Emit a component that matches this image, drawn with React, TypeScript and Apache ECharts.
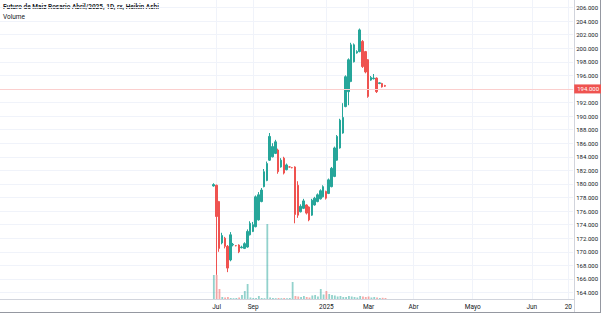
import React, { useEffect, useRef } from "react";
import * as echarts from "echarts";

const TITLE = "Futuro de Maiz Rosario Abril/2025, 1D, rx, Heikin Ashi";
const VOLUME_TITLE = "Volume";

// Heikin Ashi candles (open, close, low, high)
const haOpen = [
  179.7, 179.8, 177.4, 171.3, 172.0, 170.8, 168.8, 171.0, 170.9, 171.0,
  170.6, 170.5, 170.7, 172.5, 173.0, 173.7, 174.7, 177.4, 179.6, 180.5,
  183.5, 184.0, 184.5, 185.0, 182.5, 183.8, 182.1, 182.5, 182.4, 182.5,
  179.8, 175.9, 176.4, 176.9, 176.6, 175.4, 176.9, 177.4, 177.8, 178.1,
  178.9, 178.6, 179.6, 181.1, 183.5, 185.3, 187.5, 191.4, 193.6, 195.1,
  198.0, 199.3, 199.5, 201.0, 199.5, 198.3, 195.3, 195.5, 195.6, 194.8,
  194.8, 194.5,
];
const haClose = [
  179.9, 175.2, 170.5, 172.4, 170.8, 167.6, 172.5, 171.1, 170.9, 170.0,
  170.7, 171.2, 173.0, 174.2, 174.0, 178.1, 178.4, 179.1, 181.8, 183.0,
  187.0, 185.5, 186.2, 181.8, 183.5, 181.6, 182.8, 182.5, 182.4, 175.5,
  175.4, 176.7, 177.5, 175.7, 174.7, 177.6, 177.9, 178.4, 179.0, 179.6,
  177.9, 180.6, 182.3, 185.3, 187.0, 189.4, 189.8, 195.8, 198.3, 200.5,
  200.5, 199.5, 202.7, 197.3, 196.5, 192.9, 195.7, 195.6, 193.6, 194.9,
  194.3, 194.4,
];
const haLow = [
  179.6, 166.6, 170.0, 171.1, 170.5, 167.0, 168.6, 170.8, 170.8, 169.8,
  170.5, 170.4, 170.6, 172.4, 172.9, 173.6, 174.6, 177.3, 179.5, 180.4,
  183.4, 183.9, 184.4, 181.5, 182.4, 181.4, 182.0, 182.4, 182.3, 174.2,
  175.0, 175.8, 176.3, 175.5, 174.5, 175.3, 176.8, 177.3, 177.7, 178.0,
  177.7, 178.5, 179.5, 181.0, 183.4, 185.2, 187.4, 191.3, 191.6, 195.0,
  197.9, 199.2, 199.4, 197.1, 196.3, 192.7, 195.2, 195.4, 193.4, 194.7,
  194.2, 194.3,
];
const haHigh = [
  180.1, 179.9, 177.5, 172.8, 172.2, 171.0, 172.9, 171.3, 171.0, 171.1,
  170.9, 171.4, 173.3, 174.5, 174.4, 178.3, 178.8, 179.4, 182.2, 183.3,
  187.5, 186.0, 186.5, 185.2, 183.8, 184.0, 183.0, 182.6, 182.5, 182.6,
  180.4, 177.0, 177.8, 177.0, 176.7, 177.8, 178.1, 178.6, 179.2, 179.8,
  179.0, 180.8, 182.5, 185.5, 187.2, 189.6, 191.9, 196.0, 198.5, 200.8,
  200.7, 199.7, 202.9, 201.2, 199.6, 198.4, 195.9, 196.2, 195.7, 195.0,
  194.9, 194.6,
];
const volume = [
  240, 240, 100, 20, 15, 20, 10, 8, 10, 15,
  40, 80, 150, 15, 10, 10, 30, 10, 8, 750,
  15, 10, 8, 10, 8, 10, 8, 10, 170, 30,
  25, 20, 30, 20, 15, 35, 40, 25, 100, 45,
  80, 50, 40, 35, 25, 30, 20, 20, 30, 25,
  20, 15, 30, 25, 20, 25, 15, 20, 15, 10,
  12, 10,
];

const LAST_PRICE = 194;
const PRICE_MIN = 164;
const PRICE_MAX = 206;
const PRICE_STEP = 2;
const VOLUME_AXIS_MAX = 2990;

// time slots on the bar-index axis (trading bars + future space)
const TOTAL_SLOTS = 205;
const FIRST_BAR_SLOT = 76;
const timeLabels = ["Jul", "Sep", "2025", "Mar", "Abr", "Mayo", "Jun", "20"];
const timeLabelSlots = [77, 90, 116, 131, 147, 168, 189, 202];

const UP = "#26a69a";
const DOWN = "#ef5350";
const FONT = "Roboto, 'Liberation Sans', sans-serif";

export default function App() {
  const ref = useRef<HTMLDivElement>(null);

  useEffect(() => {
    if (!ref.current) return;
    const chart = echarts.init(ref.current, undefined, { renderer: "svg" });

    const categories = Array.from({ length: TOTAL_SLOTS }, (_, i) => String(i));
    const labelMap: Record<number, string> = {};
    timeLabelSlots.forEach((s, k) => (labelMap[s] = timeLabels[k]));

    const candles = haOpen.map((o, k) => [
      FIRST_BAR_SLOT + k,
      o,
      haClose[k],
      haLow[k],
      haHigh[k],
    ]);
    const vols = volume.map((v, k) => ({
      value: [FIRST_BAR_SLOT + k, v],
      itemStyle: {
        color:
          haClose[k] >= haOpen[k]
            ? "rgba(38,166,154,0.5)"
            : "rgba(239,83,80,0.5)",
      },
    }));

    const isLabel = (idx: number) => labelMap[idx] !== undefined;

    chart.setOption({
      animation: false,
      backgroundColor: "#ffffff",
      textStyle: { fontFamily: FONT },
      grid: [
        { left: 0, right: 27, top: 7.5, bottom: 20.5 },
        { left: 0, right: 27, top: 0, bottom: 14 },
      ],
      xAxis: [
        {
          type: "category",
          gridIndex: 0,
          data: categories,
          boundaryGap: false,
          show: false,
        },
        {
          type: "category",
          gridIndex: 1,
          data: categories,
          boundaryGap: false,
          axisLine: { show: true, lineStyle: { color: "#d1d4dc", width: 1 } },
          axisTick: { show: false },
          axisLabel: {
            interval: (idx: number) => isLabel(idx),
            formatter: (_v: string, idx: number) => labelMap[idx] ?? "",
            fontSize: 6.5,
            color: "#131722",
            margin: 4,
            fontFamily: FONT,
          },
          splitLine: {
            show: true,
            interval: (idx: number) => isLabel(idx),
            lineStyle: { color: "#f0f3fa", width: 1 },
          },
        },
      ],
      yAxis: [
        {
          type: "value",
          gridIndex: 0,
          position: "right",
          min: PRICE_MIN,
          max: PRICE_MAX,
          interval: PRICE_STEP,
          axisLine: { show: false },
          axisTick: { show: false },
          axisLabel: {
            fontSize: 6,
            color: "#131722",
            margin: 3,
            fontFamily: FONT,
            formatter: (v: number) => (v === LAST_PRICE ? "" : v.toFixed(3)),
          },
          splitLine: { show: true, lineStyle: { color: "#f0f3fa", width: 1 } },
        },
        {
          type: "value",
          gridIndex: 1,
          min: 0,
          max: VOLUME_AXIS_MAX,
          show: false,
          splitLine: { show: false },
        },
      ],
      graphic: [
        {
          type: "text",
          left: 3,
          top: 3,
          style: {
            text: TITLE,
            fontSize: 6.5,
            fontWeight: 600,
            fill: "#131722",
            fontFamily: FONT,
          },
        },
        {
          type: "text",
          left: 3,
          top: 13,
          style: {
            text: VOLUME_TITLE,
            fontSize: 6.5,
            fill: "#131722",
            fontFamily: FONT,
          },
        },
        {
          type: "line",
          shape: { x1: 574.5, y1: 0, x2: 574.5, y2: 313 },
          style: { stroke: "#d1d4dc", lineWidth: 1 },
          silent: true,
        },
        {
          type: "line",
          shape: { x1: 600.5, y1: 0, x2: 600.5, y2: 313 },
          style: { stroke: "#9598a1", lineWidth: 1 },
          silent: true,
        },
        {
          type: "line",
          shape: { x1: 0, y1: 312.5, x2: 601, y2: 312.5 },
          style: { stroke: "#9598a1", lineWidth: 1 },
          silent: true,
        },
      ],
      series: [
        {
          type: "bar",
          xAxisIndex: 1,
          yAxisIndex: 1,
          data: vols,
          barWidth: 1.8,
          encode: { x: 0, y: 1 },
          z: 1,
        },
        {
          type: "candlestick",
          xAxisIndex: 0,
          yAxisIndex: 0,
          data: candles,
          encode: { x: 0, y: [1, 2, 3, 4] },
          barWidth: 2,
          z: 3,
          itemStyle: {
            color: UP,
            color0: DOWN,
            borderColor: UP,
            borderColor0: DOWN,
            borderWidth: 1,
          },
          markLine: {
            silent: true,
            symbol: "none",
            lineStyle: { color: "#fbcfce", type: "solid", width: 1, opacity: 1 },
            label: {
              position: "end",
              formatter: LAST_PRICE.toFixed(3),
              backgroundColor: DOWN,
              color: "#ffffff",
              fontSize: 6,
              padding: [2, 3, 1, 3],
              distance: 1,
              fontFamily: FONT,
            },
            data: [{ yAxis: LAST_PRICE }],
          },
        },
      ],
    });

    return () => chart.dispose();
  }, []);

  return (
    <div
      ref={ref}
      style={{ position: "fixed", left: 0, top: 0, width: 601, height: 313 }}
    />
  );
}
